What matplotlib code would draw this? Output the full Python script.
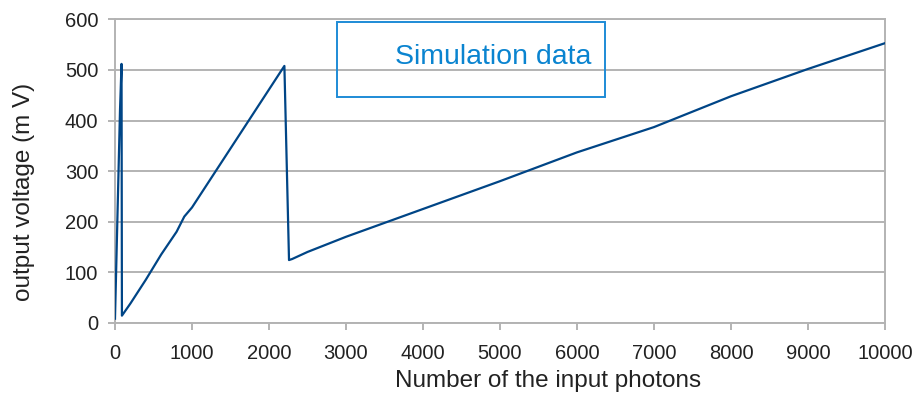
import matplotlib
matplotlib.use("Agg")
from matplotlib import pyplot as plt
from matplotlib.patches import Rectangle

# photons vs output voltage
photons = [0, 65, 85, 90, 200, 400, 600, 800, 900, 1000, 2200,
           2260, 2300, 2500, 3000, 4000, 5000, 6000, 7000, 8000, 9000, 10000]
voltage_mv = [8, 420, 512, 14, 38, 85, 135, 180, 210, 228, 508,
              124, 126, 140, 170, 225, 280, 337, 387, 448, 502, 553]

x_ticks = list(range(0, 10001, 1000))
y_ticks = list(range(0, 601, 100))

plt.rcParams['font.family'] = ['Liberation Sans', 'DejaVu Sans']

fig = plt.figure(figsize=(9.17, 3.96), dpi=100)
ax = fig.add_axes([0.1254, 0.185, 0.8397, 0.766])

grid_col = '#b3b3b3'
ax.set_axisbelow(True)
ax.grid(axis='y', color=grid_col, linewidth=1.4)
ax.plot(photons, voltage_mv, color='#004586', linewidth=1.6, zorder=3)

ax.set_xlim(0, 10000)
ax.set_ylim(0, 600)
ax.set_xticks(x_ticks)
ax.set_yticks(y_ticks)
for s in ax.spines.values():
    s.set_color(grid_col)
    s.set_linewidth(1.4)
ax.tick_params(colors=grid_col, labelcolor='#222222', labelsize=14.5,
               length=5, width=1.4)
ax.tick_params(axis='x', pad=10)
ax.tick_params(axis='y', pad=7)

ax.set_xlabel('Number of the input photons', fontsize=17.5, color='#222222')
ax.set_ylabel('output voltage (m V)', fontsize=17.5, color='#222222')
# labels in the original are not centred on the axes
ax.xaxis.set_label_coords(0.562, -0.155)
ax.yaxis.set_label_coords(-0.104, 0.431)

# "Simulation data" box
fig.patches.append(Rectangle((337 / 917, 1 - 97 / 396), 268 / 917, 75 / 396,
                             transform=fig.transFigure, fill=False,
                             edgecolor='#1e8bd6', linewidth=1.4, zorder=5))
fig.text(493 / 917, 1 - 57 / 396, 'Simulation data', color='#0a84d0',
         fontsize=20.5, ha='center', va='center')

fig.savefig('out.png', dpi=100)
